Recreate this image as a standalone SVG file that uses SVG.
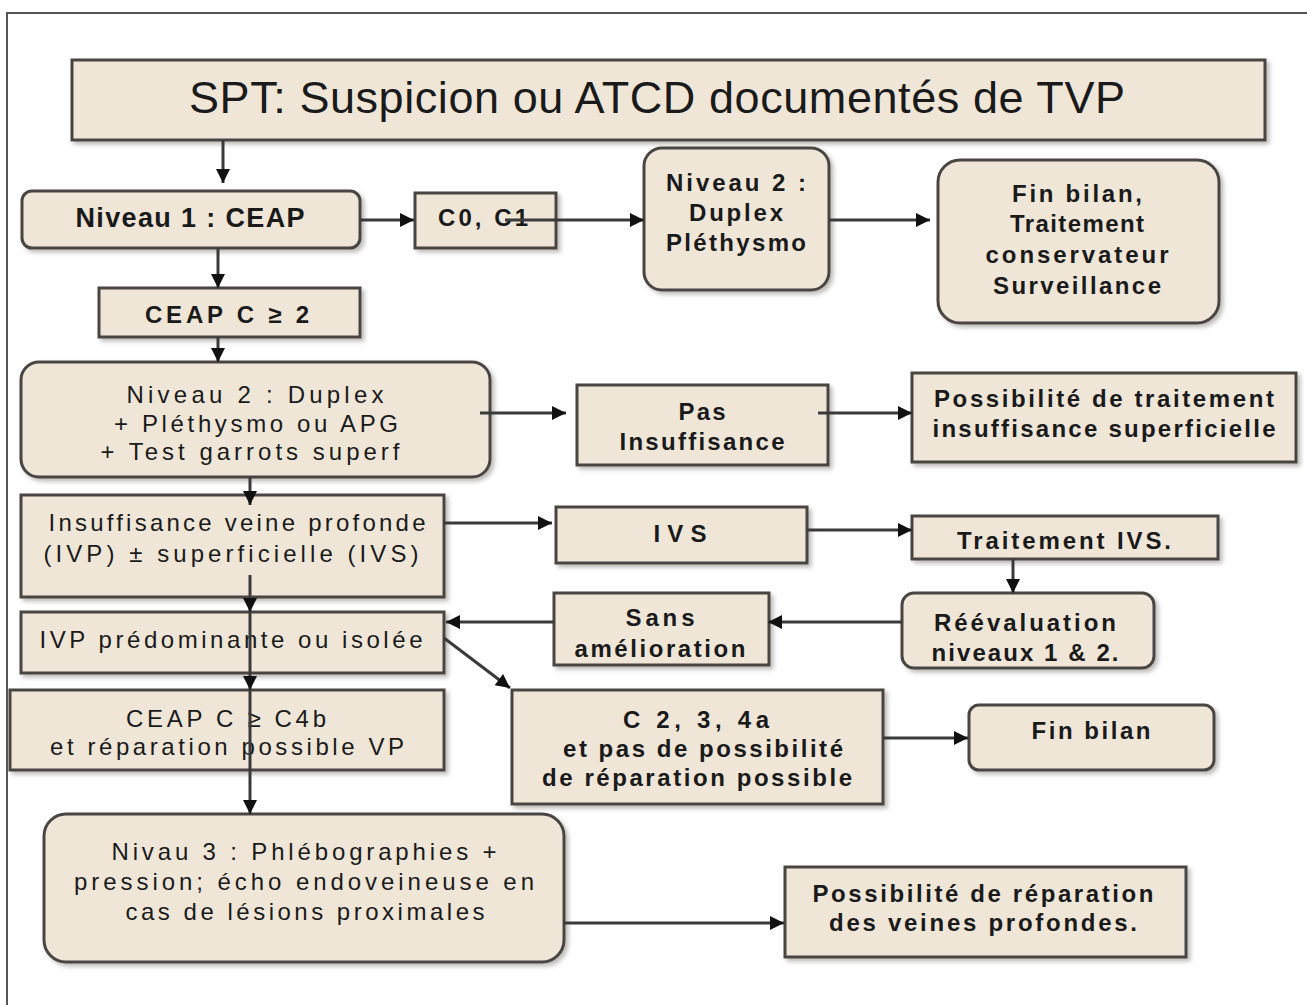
<svg xmlns="http://www.w3.org/2000/svg" width="1307" height="1005" viewBox="0 0 1307 1005">
<defs>
<marker id="ah" viewBox="0 0 10 10" refX="10" refY="5" markerUnits="userSpaceOnUse" markerWidth="15" markerHeight="14" orient="auto"><path d="M0,0 L10,5 L0,10 z" fill="#111"/></marker>
<filter id="sh" x="-5%" y="-10%" width="112%" height="130%"><feDropShadow dx="3" dy="3" stdDeviation="2" flood-color="#8a8580" flood-opacity="0.55"/></filter>
</defs>
<style>
.box{fill:#efe6d8;stroke:#4a4542;stroke-width:3;filter:url(#sh)}
.t{font-family:"Liberation Sans",Arial,sans-serif;font-size:24px;font-weight:bold;fill:#1a1a1a;text-anchor:middle}
.r{font-weight:normal;font-size:24px}
.c{stroke:#3a3a3a;stroke-width:3;fill:none;marker-end:url(#ah)}
</style>
<rect width="1307" height="1005" fill="#ffffff"/>
<path d="M7,1005 V13 H1307" fill="none" stroke="#555" stroke-width="2"/>

<g id="title"><rect class="box" x="72" y="60" width="1193" height="80"/>
<text class="t" style="font-weight:normal;font-size:45px" x="657" y="113" textLength="936">SPT: Suspicion ou ATCD documentés de TVP</text></g>

<g id="niveau1"><rect class="box" x="22" y="191" width="338" height="57" rx="10"/>
<text class="t" style="font-size:27px" x="190" y="227" textLength="229">Niveau 1 : CEAP</text></g>

<g id="c0c1"><rect class="box" x="415" y="193" width="141" height="55"/>
<text class="t" x="483" y="226" textLength="90">C0, C1</text></g>

<g id="niveau2a"><rect class="box" x="644" y="148" width="185" height="142" rx="18"/>
<text class="t" x="736" y="191" textLength="140">Niveau 2 :</text>
<text class="t" x="736" y="221" textLength="94">Duplex</text>
<text class="t" x="736" y="251" textLength="140">Pléthysmo</text></g>

<g id="finbilan1"><rect class="box" x="938" y="160" width="281" height="163" rx="22"/>
<text class="t" x="1077" y="202" textLength="130">Fin bilan,</text>
<text class="t" x="1077" y="232" textLength="134">Traitement</text>
<text class="t" x="1077" y="263" textLength="183">conservateur</text>
<text class="t" x="1077" y="294" textLength="168">Surveillance</text></g>

<g id="ceapc2"><rect class="box" x="99" y="288" width="261" height="49"/>
<text class="t" x="227" y="323" textLength="164">CEAP C ≥ 2</text></g>

<g id="niveau2b"><rect class="box" x="21" y="362" width="469" height="115" rx="18"/>
<text class="t r" x="255" y="403" textLength="257">Niveau 2 : Duplex</text>
<text class="t r" x="256" y="432" textLength="284">+ Pléthysmo ou APG</text>
<text class="t r" x="250" y="460" textLength="299">+ Test garrots superf</text></g>

<g id="pasinsuf"><rect class="box" x="577" y="385" width="251" height="80"/>
<text class="t" x="702" y="420" textLength="47">Pas</text>
<text class="t" x="702" y="450" textLength="165">Insuffisance</text></g>

<g id="possibtrait"><rect class="box" x="912" y="373" width="384" height="89"/>
<text class="t" x="1104" y="407" textLength="340">Possibilité de traitement</text>
<text class="t" x="1104" y="437" textLength="343">insuffisance superficielle</text></g>

<g id="insufprof"><rect class="box" x="21" y="495" width="423" height="102"/>
<text class="t r" x="237" y="531" textLength="377">Insuffisance veine profonde</text>
<text class="t r" x="231" y="562" textLength="375">(IVP) ± superficielle (IVS)</text></g>

<g id="ivs"><rect class="box" x="556" y="507" width="251" height="56"/>
<text class="t" x="680" y="542" textLength="53">IVS</text></g>

<g id="traitivs"><rect class="box" x="912" y="516" width="306" height="43"/>
<text class="t" x="1064" y="549" textLength="214">Traitement IVS.</text></g>

<g id="reeval"><rect class="box" x="902" y="593" width="252" height="75" rx="12"/>
<text class="t" x="1025" y="631" textLength="182">Réévaluation</text>
<text class="t" x="1025" y="661" textLength="187">niveaux 1 &amp; 2.</text></g>

<g id="sansamel"><rect class="box" x="554" y="593" width="215" height="72"/>
<text class="t" x="660" y="626" textLength="69">Sans</text>
<text class="t" x="660" y="657" textLength="171">amélioration</text></g>

<g id="ivppred"><rect class="box" x="21" y="612" width="423" height="61"/>
<text class="t r" x="231" y="648" textLength="383">IVP prédominante ou isolée</text></g>

<g id="ceapc4b"><rect class="box" x="10" y="690" width="434" height="80"/>
<text class="t r" x="226" y="727" textLength="200">CEAP C ≥ C4b</text>
<text class="t r" x="227" y="755" textLength="354">et réparation possible VP</text></g>

<g id="c234a"><rect class="box" x="512" y="690" width="371" height="114"/>
<text class="t" x="696" y="728" textLength="146">C 2, 3, 4a</text>
<text class="t" x="703" y="757" textLength="280">et pas de possibilité</text>
<text class="t" x="697" y="786" textLength="310">de réparation possible</text></g>

<g id="finbilan2"><rect class="box" x="969" y="705" width="245" height="65" rx="10"/>
<text class="t" x="1091" y="739" textLength="119">Fin bilan</text></g>

<g id="niveau3"><rect class="box" x="44" y="814" width="520" height="148" rx="22"/>
<text class="t r" x="304" y="860" textLength="385">Nivau 3 : Phlébographies +</text>
<text class="t r" x="304" y="890" textLength="460">pression; écho endoveineuse en</text>
<text class="t r" x="305" y="920" textLength="359">cas de lésions proximales</text></g>

<g id="possibrep"><rect class="box" x="785" y="867" width="401" height="90"/>
<text class="t" x="983" y="902" textLength="341">Possibilité de réparation</text>
<text class="t" x="983" y="931" textLength="308">des veines profondes.</text></g>

<g id="connectors">
<line class="c" x1="223" y1="140" x2="223" y2="183"/>
<line class="c" x1="360" y1="220" x2="414" y2="220"/>
<line class="c" x1="505" y1="220" x2="644" y2="220"/>
<line class="c" x1="829" y1="220" x2="930" y2="220"/>
<line class="c" x1="218" y1="248" x2="218" y2="288"/>
<line class="c" x1="218" y1="337" x2="218" y2="362"/>
<line class="c" x1="480" y1="413" x2="566" y2="413"/>
<line class="c" x1="818" y1="413" x2="912" y2="413"/>
<line class="c" x1="250" y1="477" x2="250" y2="505"/>
<line class="c" x1="444" y1="523" x2="552" y2="523"/>
<line class="c" x1="807" y1="530" x2="912" y2="530"/>
<line class="c" x1="1013" y1="559" x2="1013" y2="593"/>
<line class="c" x1="902" y1="622" x2="768" y2="622"/>
<line class="c" x1="554" y1="622" x2="446" y2="622"/>
<line class="c" x1="250" y1="575" x2="250" y2="612"/>
<line class="c" x1="250" y1="612" x2="250" y2="690"/>
<line class="c" x1="444" y1="638" x2="510" y2="688"/>
<line class="c" x1="250" y1="690" x2="250" y2="814"/>
<line class="c" x1="883" y1="738" x2="968" y2="738"/>
<line class="c" x1="564" y1="923" x2="784" y2="923"/>
</g>
</svg>
